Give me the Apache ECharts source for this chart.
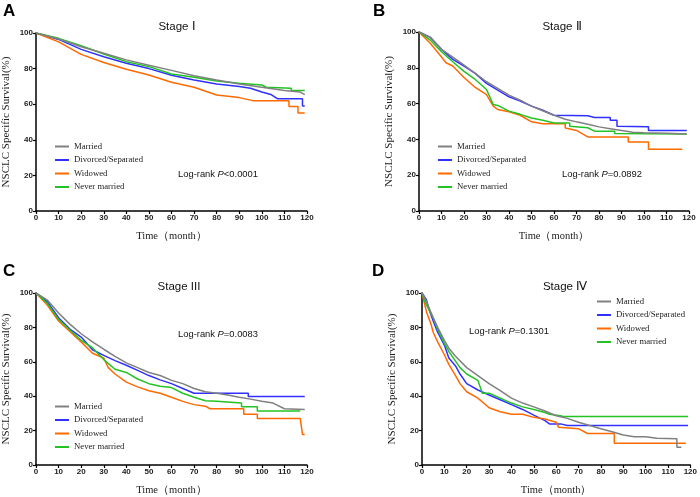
<!DOCTYPE html>
<html><head><meta charset="utf-8">
<script src="https://cdn.jsdelivr.net/npm/echarts@6/dist/echarts.min.js"></script>
<style>html,body{margin:0;padding:0;background:#fff}#c{width:700px;height:497px}</style>
</head><body><div id="c"></div>
<script>
const groups = ['Married','Divorced/Separated','Widowed','Never married'];
const colors = ['#808080','#3030ff','#ff6a00','#22c322'];
const xTicks = [0,10,20,30,40,50,60,70,80,90,100,110,120];
const stageTitles = ['Stage Ⅰ','Stage Ⅱ','Stage III','Stage Ⅳ'];
const panelLetters = ['A','B','C','D'];
const logRank = ['Log-rank {i|P}<0.0001','Log-rank {i|P}=0.0892','Log-rank {i|P}=0.0083','Log-rank {i|P}=0.1301'];

// Stage I
const s1_married = [[0,100],[10,96.6],[20,92.3],[30,88.6],[40,84.9],[50,81.9],[60,79],[70,76],[80,73.6],[90,71.4],[100,69.5],[110,67.7],[117,66.8],[117,65.8],[119,65.4]];
const s1_divorced = [[0,100],[10,96.4],[20,90.8],[30,86.7],[40,83],[50,80],[60,76.3],[70,73.6],[80,71.4],[90,69.9],[95,69],[100,66.9],[104,65.5],[107,63],[118,63],[118,59],[119,59]];
const s1_widowed = [[0,100],[10,95],[20,88],[30,83.4],[40,79.6],[50,76.4],[60,72.3],[70,69.5],[80,65.2],[90,63.7],[96,62],[112,61.9],[112,58.7],[116,58.7],[116,55],[119,55]];
const s1_never = [[0,100],[10,97],[20,92.9],[30,88.2],[40,83.9],[50,81.1],[60,77],[70,75.1],[80,73],[90,71.8],[100,70.8],[102,69.5],[113,69],[113,67.7],[119,67.7]];
// Stage II
const s2_married = [[0,100],[5,97],[10,90.3],[15,86],[20,81.5],[25,76.9],[30,72.2],[35,68.5],[40,64.7],[45,61.9],[50,58.6],[55,56],[60,53.5],[65,51.3],[70,49.8],[75,48.5],[80,47],[85,46],[90,45],[95,44],[100,43.7],[110,43.5],[119,43]];
const s2_divorced = [[0,100],[5,97],[10,90.3],[15,84.7],[20,81],[25,76.9],[30,71.3],[35,67.5],[40,63.8],[45,61.4],[50,58.6],[55,56.3],[60,53.5],[75,53.2],[78,52.2],[85,52.2],[85,50.7],[88,50.7],[88,47.4],[102,47],[102,45],[119,45]];
const s2_widowed = [[0,100],[5,93.7],[10,86],[12,82.8],[15,81],[20,74.6],[25,69],[30,65],[33,58.6],[35,56.7],[40,55.4],[45,53.5],[50,49.8],[55,48.8],[65,48.8],[65,46.4],[70,45],[75,41.4],[93,41.4],[93,38.6],[102,38.6],[102,34.5],[117,34.5]];
const s2_never = [[0,100],[5,95.5],[10,89],[15,83.4],[20,78],[25,73.5],[30,67.9],[33,59.5],[35,59],[40,55.8],[45,54],[50,52],[55,50.7],[60,49.2],[67,49.2],[67,47.4],[75,46.5],[78,44.6],[87,44.6],[87,43.3],[119,43]];
// Stage III
const s3_married = [[0,100],[5,95.9],[10,88.4],[15,81.9],[20,76.3],[25,71.6],[30,67.3],[35,63.2],[40,59.4],[45,56.6],[50,53.8],[55,52],[60,49.2],[65,47.3],[70,44.5],[75,42.6],[80,41.7],[85,40.7],[90,39.4],[95,38.3],[100,37],[105,36],[110,32.7],[119,32.3]];
const s3_divorced = [[0,100],[5,95],[10,85.6],[15,79],[20,74.4],[25,67],[30,63.7],[35,60.7],[40,58],[45,55],[50,52],[55,49.5],[60,47.3],[65,44.5],[70,41.7],[94,41.7],[94,39.8],[119,39.8]];
const s3_widowed = [[0,100],[5,93],[10,83.7],[15,77.6],[20,71.6],[25,65],[30,62.2],[32,56.6],[35,52.9],[40,48.2],[45,45.4],[50,43.2],[55,41.7],[60,39.4],[65,37],[70,35.1],[75,34.2],[77,32.7],[92,32.7],[92,29.5],[98,29.5],[98,27.1],[117,27.1],[118,17.8],[119,17.8]];
const s3_never = [[0,100],[5,94],[10,84.7],[15,78.5],[20,72.5],[25,68.2],[30,61.3],[35,55.7],[40,53.8],[45,50],[50,47.3],[55,45.8],[60,45],[65,41.7],[70,39.4],[75,37.4],[80,37],[91,36],[91,33.8],[98,33.8],[98,31.4],[117,31.4]];
// Stage IV
const s4_married = [[0,100],[2,95],[5,85.6],[7,80],[10,72.5],[12,67.9],[15,63.2],[20,56.6],[25,52],[30,47.3],[35,43.2],[40,38.9],[45,36],[50,33.8],[55,31.4],[60,28.6],[65,27.1],[70,24.9],[75,23],[80,21.1],[85,19.3],[90,17.4],[95,16.4],[100,16.4],[105,15.5],[114,15.3],[114,10.3],[116,10.3]];
const s4_divorced = [[0,100],[2,96],[3,91],[5,83.7],[7,77.2],[10,69.7],[12,62.2],[15,57.6],[17,52.9],[20,47.3],[25,43.6],[30,40.7],[35,37.9],[40,35.1],[45,32.3],[50,29],[55,25.8],[57,23.9],[62,23.9],[65,23],[119,23]];
const s4_widowed = [[0,100],[2,89],[4,82],[5,77.2],[7,71.6],[10,64.1],[12,58.5],[15,52],[17,47.3],[20,42.6],[25,38.9],[30,33.3],[35,31],[40,29.5],[45,29.5],[50,27.7],[55,26.7],[60,24.9],[61,22],[70,21.1],[74,18.3],[86,18.3],[86,12.7],[118,12.7]];
const s4_never = [[0,100],[1,96],[2,93],[5,85.6],[7,79],[10,70.7],[12,66],[15,60.4],[17,56.6],[20,52.9],[25,49.2],[27,41.7],[30,41.7],[35,38.9],[40,36],[45,33.8],[50,32.3],[55,30.5],[57,29.5],[62,28.6],[63,28.2],[119,28.2]];

const stageData = [
  [s1_married,s1_divorced,s1_widowed,s1_never],
  [s2_married,s2_divorced,s2_widowed,s2_never],
  [s3_married,s3_divorced,s3_widowed,s3_never],
  [s4_married,s4_divorced,s4_widowed,s4_never]
];

const grids = [
  {left:35, top:33, width:272, height:178},
  {left:419, top:32, width:270, height:179},
  {left:35, top:293, width:272, height:178},
  {left:422, top:293, width:270, height:178}
];
const legendPos = [{left:55,top:142},{left:438,top:142},{left:55,top:402},{left:597,top:297}];
const titlePos = [[177,27],[562,27],[179,287],[565,287]];
const letterPos = [[3,3],[373,3],[3,263],[372,263]];
const logPos = [[178,174],[562,174],[178,334],[469,331]];

const axisCommon = {
  axisLine:{show:true,lineStyle:{color:'#000',width:1.5}},
  axisTick:{show:true,length:3,lineStyle:{color:'#000',width:1.2}},
  splitLine:{show:false},
  axisLabel:{fontFamily:'Liberation Sans',fontWeight:'bold',fontSize:8,color:'#222',margin:3},
  nameLocation:'middle',
  nameTextStyle:{fontFamily:'Liberation Serif',fontSize:10.5,color:'#222'}
};
const xAxis = [], yAxis = [], series = [], legend = [], graphic = [];
for (let g=0; g<4; g++){
  xAxis.push(Object.assign({}, axisCommon, {gridIndex:g,type:'value',min:0,max:120,interval:10,name:'Time（month）',nameGap:20}));
  yAxis.push(Object.assign({}, axisCommon, {gridIndex:g,type:'value',min:0,max:100,interval:20,name:'NSCLC Specific Survival(%)',nameGap:24,
    nameTextStyle:{fontFamily:'Liberation Serif',fontSize:11,color:'#222'}}));
  for (let s=0; s<4; s++){
    series.push({type:'line',name:groups[s],xAxisIndex:g,yAxisIndex:g,data:stageData[g][s],showSymbol:false,
      lineStyle:{color:colors[s],width:1.5},itemStyle:{color:colors[s]},z:s===0?3:2});
  }
  legend.push(Object.assign({orient:'vertical',data:groups,itemWidth:14,itemHeight:2,itemGap:4.5,icon:'rect',padding:0,
    textStyle:{fontFamily:'Liberation Serif',fontSize:8.7,color:'#222'}}, legendPos[g]));
  graphic.push({type:'text',x:titlePos[g][0],y:titlePos[g][1],style:{text:stageTitles[g],fontFamily:'Liberation Sans',fontSize:11.5,fill:'#111',align:'center',verticalAlign:'middle'}});
  graphic.push({type:'text',x:letterPos[g][0],y:letterPos[g][1],style:{text:panelLetters[g],fontFamily:'Liberation Sans',fontWeight:'bold',fontSize:17,fill:'#000',align:'left',verticalAlign:'top'}});
  graphic.push({type:'text',x:logPos[g][0],y:logPos[g][1],style:{text:logRank[g],fontFamily:'Liberation Sans',fontSize:9.4,fill:'#111',align:'left',verticalAlign:'middle',
    rich:{i:{fontStyle:'italic',fontFamily:'Liberation Sans',fontSize:9.4,fill:'#111'}}}});
}
const chart = echarts.init(document.getElementById('c'));
chart.setOption({animation:false,backgroundColor:'#fff',grid:grids,xAxis,yAxis,series,legend,graphic});
</script></body></html>
